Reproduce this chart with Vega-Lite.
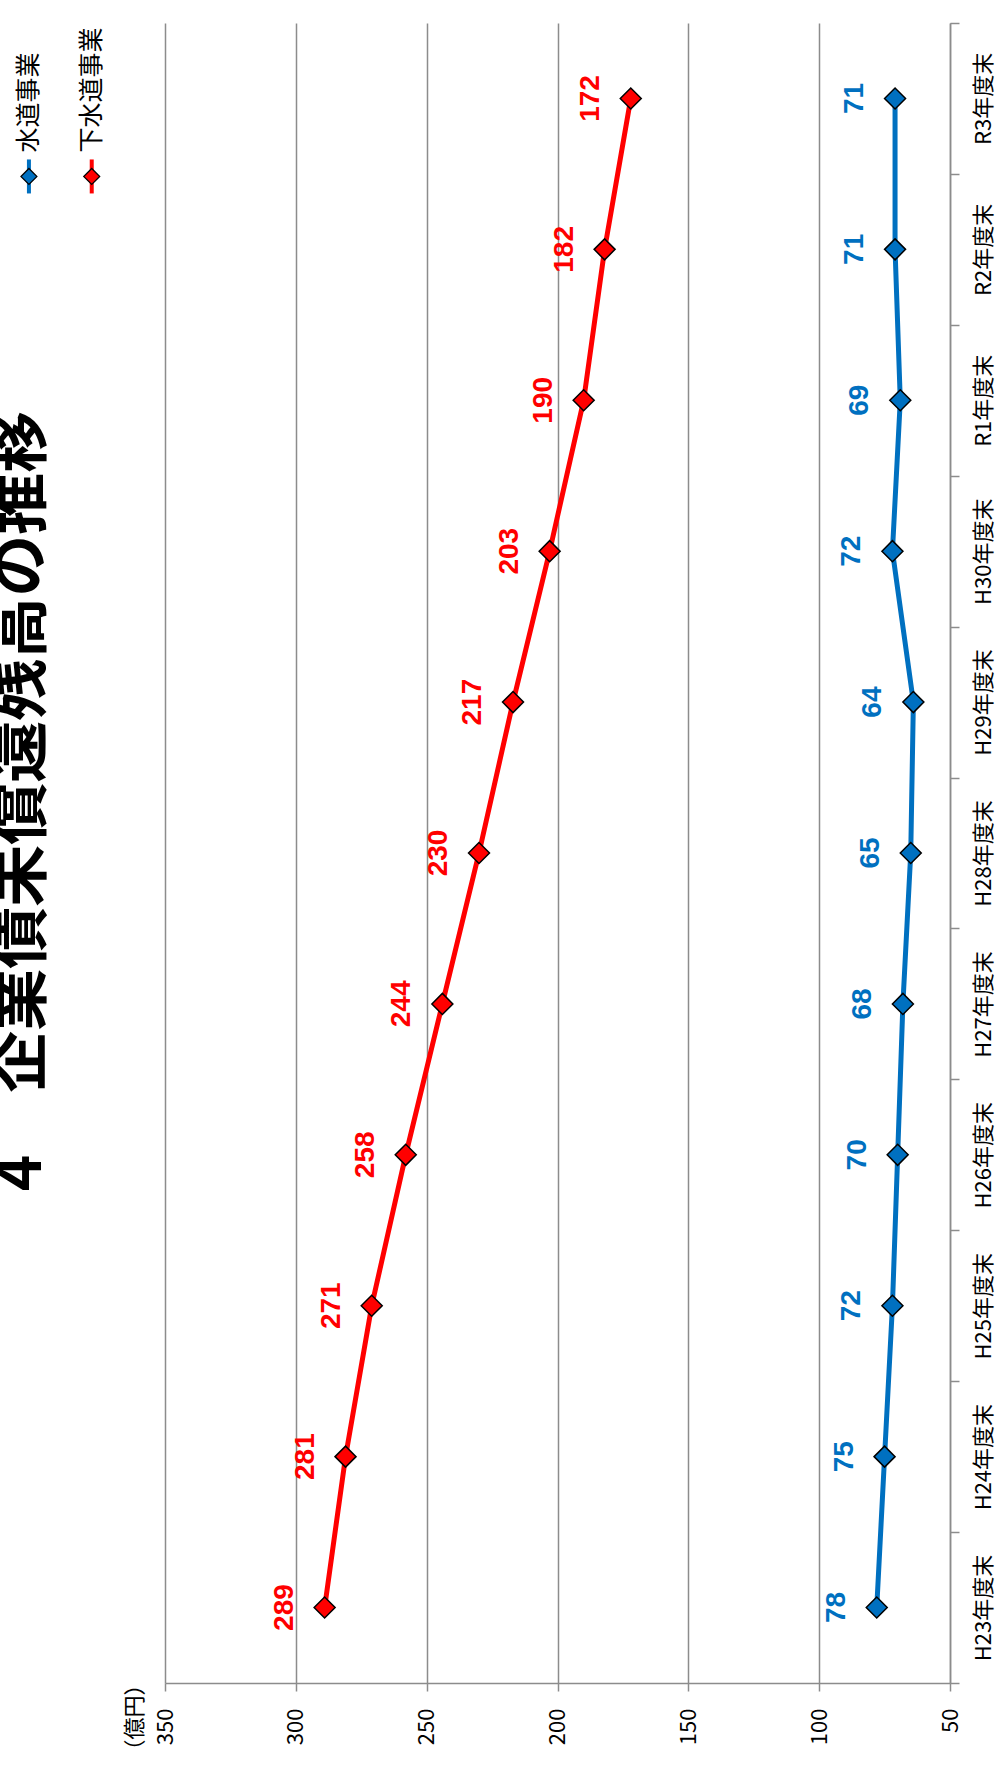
{
  "$schema": "https://vega.github.io/schema/vega-lite/v6.json",
  "width": 785,
  "height": 1660,
  "autosize": {"type": "none"},
  "padding": {"left": 165, "top": 23, "right": 48, "bottom": 92},
  "background": "white",
  "title": {
    "text": "4　企業債未償還残高の推移",
    "orient": "left",
    "anchor": "middle",
    "frame": "group",
    "font": "Noto Sans CJK JP",
    "fontWeight": "bold",
    "fontSize": 62,
    "color": "black",
    "offset": -37,
    "dx": 52
  },
  "datasets": {
    "main": [
      {"year": "H23年度末", "series": "水道事業", "value": 78},
      {"year": "H24年度末", "series": "水道事業", "value": 75},
      {"year": "H25年度末", "series": "水道事業", "value": 72},
      {"year": "H26年度末", "series": "水道事業", "value": 70},
      {"year": "H27年度末", "series": "水道事業", "value": 68},
      {"year": "H28年度末", "series": "水道事業", "value": 65},
      {"year": "H29年度末", "series": "水道事業", "value": 64},
      {"year": "H30年度末", "series": "水道事業", "value": 72},
      {"year": "R1年度末", "series": "水道事業", "value": 69},
      {"year": "R2年度末", "series": "水道事業", "value": 71},
      {"year": "R3年度末", "series": "水道事業", "value": 71},
      {"year": "H23年度末", "series": "下水道事業", "value": 289},
      {"year": "H24年度末", "series": "下水道事業", "value": 281},
      {"year": "H25年度末", "series": "下水道事業", "value": 271},
      {"year": "H26年度末", "series": "下水道事業", "value": 258},
      {"year": "H27年度末", "series": "下水道事業", "value": 244},
      {"year": "H28年度末", "series": "下水道事業", "value": 230},
      {"year": "H29年度末", "series": "下水道事業", "value": 217},
      {"year": "H30年度末", "series": "下水道事業", "value": 203},
      {"year": "R1年度末", "series": "下水道事業", "value": 190},
      {"year": "R2年度末", "series": "下水道事業", "value": 182},
      {"year": "R3年度末", "series": "下水道事業", "value": 172}
    ],
    "legendBlue": [{"series": "水道事業", "year": "R3年度末"}],
    "legendRed": [{"series": "下水道事業", "year": "R3年度末"}]
  },
  "layer": [
    {
      "data": {"name": "main"},
      "encoding": {
        "y": {
          "field": "year",
          "type": "ordinal",
          "sort": ["R3年度末", "R2年度末", "R1年度末", "H30年度末", "H29年度末", "H28年度末", "H27年度末", "H26年度末", "H25年度末", "H24年度末", "H23年度末"],
          "bandPosition": 0.5,
          "scale": {
            "type": "band",
            "paddingInner": 0,
            "paddingOuter": 0,
            "domain": ["R3年度末", "R2年度末", "R1年度末", "H30年度末", "H29年度末", "H28年度末", "H27年度末", "H26年度末", "H25年度末", "H24年度末", "H23年度末"]
          },
          "axis": {
            "orient": "right",
            "title": null,
            "labelAngle": 270,
            "labelAlign": "center",
            "labelBaseline": "top",
            "labelFont": "Noto Sans CJK JP",
            "labelFontSize": 22,
            "labelColor": "black",
            "labelPadding": 14,
            "tickSize": 9,
            "tickWidth": 1.5,
            "tickColor": "#8c8c8c",
            "domainColor": "#8c8c8c",
            "domainWidth": 1.5,
            "tickBand": "extent",
            "grid": false
          }
        },
        "x": {
          "field": "value",
          "type": "quantitative",
          "scale": {"domain": [50, 350], "reverse": true, "nice": false, "zero": false},
          "axis": {
            "orient": "bottom",
            "values": [50, 100, 150, 200, 250, 300, 350],
            "title": "（億円）",
            "titleAngle": 270,
            "titleX": -31,
            "titleY": 34,
            "titleAlign": "center",
            "titleBaseline": "middle",
            "titleFont": "Noto Sans CJK JP",
            "titleFontSize": 22,
            "titleFontWeight": "normal",
            "titleColor": "black",
            "labelAngle": 270,
            "labelAlign": "right",
            "labelBaseline": "middle",
            "labelFont": "Noto Sans CJK JP",
            "labelFontSize": 22,
            "labelColor": "black",
            "labelPadding": 17,
            "tickSize": 8,
            "tickWidth": 1.5,
            "tickColor": "#8c8c8c",
            "domainColor": "#8c8c8c",
            "domainWidth": 1.5,
            "grid": true,
            "gridColor": "#8c8c8c",
            "gridWidth": 1.5
          }
        },
        "color": {
          "field": "series",
          "type": "nominal",
          "scale": {"domain": ["水道事業", "下水道事業"], "range": ["#0070C0", "#FF0000"]},
          "legend": null
        }
      },
      "layer": [
        {"mark": {"type": "line", "strokeWidth": 5}},
        {"mark": {"type": "point", "shape": "diamond", "filled": true, "size": 441, "stroke": "black", "strokeWidth": 1.5, "opacity": 1}},
        {
          "mark": {"type": "text", "angle": 270, "dy": -40, "font": "Liberation Sans", "fontWeight": "bold", "fontSize": 28, "align": "center", "baseline": "middle"},
          "encoding": {"text": {"field": "value", "type": "quantitative"}}
        }
      ]
    },
    {
      "data": {"name": "legendBlue"},
      "encoding": {
        "x": {"datum": 402, "type": "quantitative"},
        "y": {"field": "year", "type": "ordinal", "sort": ["R3年度末", "R2年度末", "R1年度末", "H30年度末", "H29年度末", "H28年度末", "H27年度末", "H26年度末", "H25年度末", "H24年度末", "H23年度末"]},
        "color": {"field": "series", "type": "nominal"}
      },
      "layer": [
        {"mark": {"type": "point", "shape": "M0,-1L0,1", "filled": false, "size": 1156, "strokeWidth": 4, "opacity": 1, "yOffset": 78}},
        {"mark": {"type": "point", "shape": "diamond", "filled": true, "size": 256, "stroke": "black", "strokeWidth": 1.2, "opacity": 1, "yOffset": 78}},
        {
          "mark": {"type": "text", "angle": 270, "align": "left", "baseline": "middle", "dx": -54, "font": "Noto Sans CJK JP", "fontSize": 25, "color": "black"},
          "encoding": {"text": {"field": "series"}, "color": {"value": "black"}}
        }
      ]
    },
    {
      "data": {"name": "legendRed"},
      "encoding": {
        "x": {"datum": 378, "type": "quantitative"},
        "y": {"field": "year", "type": "ordinal", "sort": ["R3年度末", "R2年度末", "R1年度末", "H30年度末", "H29年度末", "H28年度末", "H27年度末", "H26年度末", "H25年度末", "H24年度末", "H23年度末"]},
        "color": {"field": "series", "type": "nominal"}
      },
      "layer": [
        {"mark": {"type": "point", "shape": "M0,-1L0,1", "filled": false, "size": 1156, "strokeWidth": 4, "opacity": 1, "yOffset": 78}},
        {"mark": {"type": "point", "shape": "diamond", "filled": true, "size": 256, "stroke": "black", "strokeWidth": 1.2, "opacity": 1, "yOffset": 78}},
        {
          "mark": {"type": "text", "angle": 270, "align": "left", "baseline": "middle", "dx": -54, "font": "Noto Sans CJK JP", "fontSize": 25, "color": "black"},
          "encoding": {"text": {"field": "series"}, "color": {"value": "black"}}
        }
      ]
    }
  ],
  "config": {"view": {"stroke": null}}
}
